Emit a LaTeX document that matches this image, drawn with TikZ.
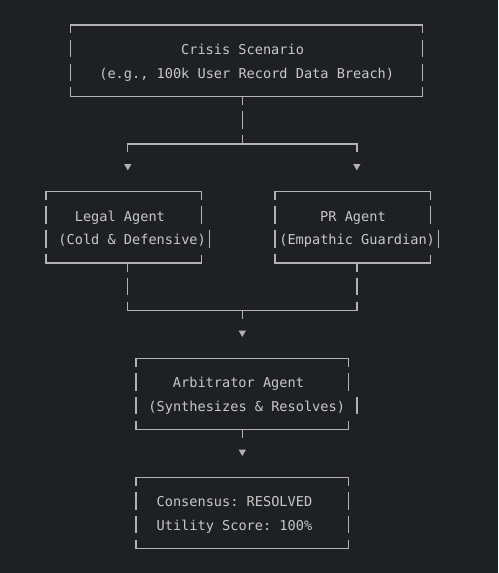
\documentclass[tikz,border=0pt]{standalone}
\usepackage{fontspec}
\setmonofont{DejaVu Sans Mono}
\usetikzlibrary{shapes.geometric}

\definecolor{termbg}{HTML}{1F2023}
\definecolor{termfg}{HTML}{C8C8C8}
\definecolor{termln}{HTML}{B2B2B2}

\tikzset{
  txt/.style={anchor=base west,inner sep=0pt,text=termfg,font=\ttfamily\fontsize{13.6}{16}\selectfont},
  hl/.style={draw=termln,line width=1.4pt,line cap=rect},
  vl/.style={draw=termln,line width=1.4pt,dash pattern=on 17.5pt off 6.3pt,dash phase=9pt},
  onebar/.style={draw=termln,line width=1.4pt},
  tip/.style={regular polygon,regular polygon sides=3,shape border rotate=180,fill=termln,inner sep=0pt,minimum size=8.4pt},
}

% left, right, top row, bottom row (right side drawn apart)
\newcommand{\asciibox}[4]{%
  \draw[hl] (#1,#3) -- (#2,#3);
  \draw[hl] (#1,#4) -- (#2,#4);
  \draw[vl] (#1,#3) -- (#1,#4);
}
% a single bar one column too far right
\newcommand{\strayb}[2]{\draw[onebar] (#1,#2) ++(0pt,9pt) -- ++(0pt,-17.5pt);}

\begin{document}
\begin{tikzpicture}[x=8.18pt,y=-23.8pt]
  \fill[termbg] (-5.623,-1.0504) rectangle (55.257,23.025);

  % crisis box
  \asciibox{3}{46}{0}{3}
  \draw[vl] (46,0) -- (46,3);
  \node[txt] (crisisA) at (16.5,1.24) {Crisis Scenario};
  \node[txt] (crisisB) at (6.5,2.24) {(e.g., 100k User Record Data Breach)};

  % split to the two agents
  \coordinate (crisisOut) at (24,3);
  \coordinate (split) at (24,5);
  \coordinate (splitL) at (10,5);
  \coordinate (splitR) at (38,5);
  \draw[vl] (crisisOut) -- (split);
  \draw[hl] (splitL) -- (splitR);
  \draw[vl] (splitL) -- (10,5.5);
  \draw[vl] (splitR) -- (38,5.5);
  \node[tip] (tipL) at (10,5.93) {};
  \node[tip] (tipR) at (38,5.93) {};

  % legal agent
  \asciibox{0}{19}{7}{10}
  \draw[vl] (19,7) -- (19,8.5);
  \strayb{20}{9}
  \draw[vl] (19,10) -- (19,9.5);
  \node[txt] (legalA) at (3.5,8.24) {Legal Agent};
  \node[txt] (legalB) at (1.5,9.24) {(Cold \& Defensive)};

  % pr agent
  \asciibox{28}{47}{7}{10}
  \draw[vl] (47,7) -- (47,8.5);
  \strayb{48}{9}
  \draw[vl] (47,10) -- (47,9.5);
  \node[txt] (prA) at (33.5,8.24) {PR Agent};
  \node[txt] (prB) at (28.5,9.24) {(Empathic Guardian)};

  % join into arbitrator
  \coordinate (legalOut) at (10,10);
  \coordinate (prOut) at (38,10);
  \coordinate (joinL) at (10,12);
  \coordinate (joinR) at (38,12);
  \coordinate (join) at (24,12);
  \draw[vl] (legalOut) -- (joinL);
  \draw[vl] (prOut) -- (joinR);
  \draw[hl] (joinL) -- (joinR);
  \draw[vl] (join) -- (24,12.5);
  \node[tip] (tipJ) at (24,12.93) {};

  % arbitrator
  \asciibox{11}{37}{14}{17}
  \draw[vl] (37,14) -- (37,15.5);
  \strayb{38}{16}
  \draw[vl] (37,17) -- (37,16.5);
  \node[txt] (arbA) at (15.5,15.24) {Arbitrator Agent};
  \node[txt] (arbB) at (12.5,16.24) {(Synthesizes \& Resolves)};

  \coordinate (arbOut) at (24,17);
  \draw[vl] (arbOut) -- (24,17.5);
  \node[tip] (tipA) at (24,17.93) {};

  % result
  \asciibox{11}{37}{19}{22}
  \draw[vl] (37,19) -- (37,22);
  \node[txt] (resA) at (13.5,20.24) {Consensus: RESOLVED};
  \node[txt] (resB) at (13.5,21.24) {Utility Score: 100\%};
\end{tikzpicture}
\end{document}
